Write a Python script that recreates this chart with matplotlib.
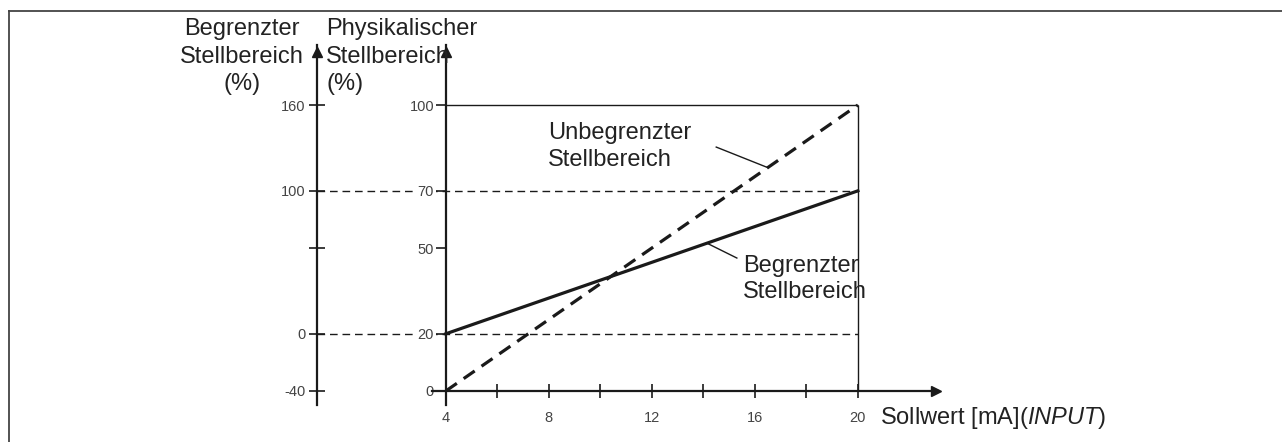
"""Setpoint range diagram: physical vs. limited actuating range."""

import matplotlib

matplotlib.use("Agg")
import matplotlib.pyplot as plt
from matplotlib.lines import Line2D

plt.rcParams.update(
    {
        "font.family": "Liberation Sans",
        "mathtext.fontset": "custom",
        "mathtext.rm": "Liberation Sans",
        "mathtext.it": "Liberation Sans:italic",
    }
)

# Values.
setpoint_ma = [4, 20]
unlimited_range = [0, 100]  # physical range without limit (%)
limited_range = [20, 70]  # physical range with limit (%)
limit_levels = [20, 70]  # physical % where the limited range is 0 % / 100 %
limit_values = [0, 100]

x_ticks = [4, 6, 8, 10, 12, 14, 16, 18, 20]
x_tick_labels = ["4", "", "8", "", "12", "", "16", "", "20"]
phys_ticks = [0, 20, 50, 70, 100]
phys_tick_labels = ["0", "20", "50", "70", "100"]
limited_ticks = [-40, 0, 60, 100, 160]
limited_tick_labels = ["-40", "0", "", "100", "160"]

INK = "#1a1a1a"
TXT = "#222222"
TICK_TXT = "#444444"
BIG = 17

slope = (limit_values[1] - limit_values[0]) / (limit_levels[1] - limit_levels[0])
offset = limit_values[0] - slope * limit_levels[0]


def phys_to_limited(p):
    return slope * p + offset


def limited_to_phys(v):
    return (v - offset) / slope


fig = plt.figure(figsize=(12.82, 4.42), dpi=100)
ax = fig.add_axes([0.2473, 0.0837, 0.4922, 0.8145])
ax.set_xlim(-1, 23.5)
ax.set_ylim(-4.9, 121)

# Centered spines
ax.spines["top"].set_visible(False)
ax.spines["right"].set_visible(False)
ax.spines["left"].set_position(("data", 4))
ax.spines["bottom"].set_position(("data", 0))
ax.spines["bottom"].set_bounds(3.45, 23.1)
for s in ("left", "bottom"):
    ax.spines[s].set_linewidth(1.6)
    ax.spines[s].set_color(INK)

ax.set_xticks(x_ticks, x_tick_labels)
ax.set_yticks(phys_ticks, phys_tick_labels)
ax.tick_params(axis="x", direction="inout", length=9.5, width=1.2, pad=10,
               labelsize=10.5, colors=INK, labelcolor=TICK_TXT)
ax.tick_params(axis="y", direction="out", length=7, width=1.2, pad=1.5,
               labelsize=10.5, colors=INK, labelcolor=TICK_TXT)
for lbl in ax.get_yticklabels():
    lbl.set_bbox(dict(facecolor="white", edgecolor="none", pad=1.5))

# Secondary (limited range) axis on the far left
sec = ax.secondary_yaxis(0, functions=(phys_to_limited, limited_to_phys))
sec.set_yticks(limited_ticks, limited_tick_labels)
sec.spines["left"].set_linewidth(1.6)
sec.spines["left"].set_color(INK)
sec.tick_params(direction="inout", length=11, width=1.2, pad=3,
                labelsize=10.5, colors=INK, labelcolor=TICK_TXT)

# Arrow heads on the axes
ax.plot([4], [118.6], marker="^", ms=7, color=INK, clip_on=False)
ax.plot([-1], [118.6], marker="^", ms=7, color=INK, clip_on=False)
ax.plot([23.05], [0], marker=">", ms=7, color=INK, clip_on=False)

# Frame of the working range and reference lines
ax.hlines(limit_levels, -1, 20, colors=INK, linewidth=1.0,
          linestyles=[(0, (5.5, 3.5))], zorder=1)
ax.hlines(100, 4, 20, colors=INK, linewidth=1.0)
ax.vlines(20, 0, 100, colors=INK, linewidth=1.0)

# Characteristic lines
ax.plot(setpoint_ma, unlimited_range, color=INK, linewidth=2.3,
        linestyle=(0, (4.2, 2.6)), clip_on=False)
ax.plot(setpoint_ma, limited_range, color=INK, linewidth=2.3, clip_on=False)

# Annotations with leader lines
ax.text(7.96, 85.5, "Unbegrenzter\nStellbereich", fontsize=BIG, color=TXT,
        ha="left", va="center", linespacing=1.27)
x_u = 16.5
ax.plot([14.5, x_u], [85.3, (x_u - 4) / 16 * 100], color=INK, linewidth=1.0)

ax.text(15.53, 39.2, "Begrenzter\nStellbereich", fontsize=BIG, color=TXT,
        ha="left", va="center", linespacing=1.27)
x_b = 14.14
ax.plot([x_b, 15.3], [20 + (x_b - 4) / 16 * 50, 46.5], color=INK, linewidth=1.0)

# Axis titles
fig.text(0.1888, 0.872, "Begrenzter\nStellbereich\n(%)", fontsize=BIG,
         color=TXT, ha="center", va="center", linespacing=1.34)
fig.text(0.2543, 0.872, "Physikalischer\nStellbereich\n(%)", fontsize=BIG,
         color=TXT, ha="left", va="center", linespacing=1.34)
fig.text(0.6864, 0.0396, r"Sollwert [mA]($\mathit{INPUT}$)", fontsize=BIG,
         color=TXT, ha="left", va="baseline")

# Outer frame (top and left edges only)
fig.add_artist(Line2D([0.0074, 1.0], [0.975, 0.975], color="#444444", linewidth=1.3))
fig.add_artist(Line2D([0.0074, 0.0074], [0.0, 0.975], color="#444444", linewidth=1.3))

fig.savefig("out.png", dpi=100)
